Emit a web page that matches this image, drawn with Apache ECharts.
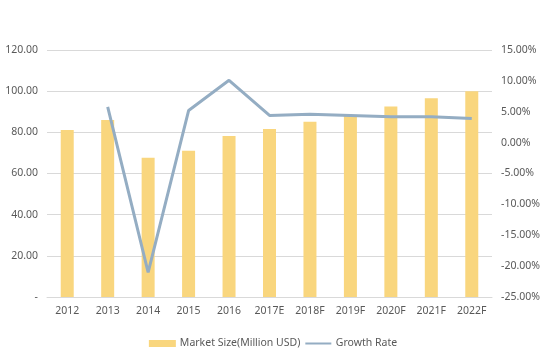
<!DOCTYPE html>
<html><head><meta charset="utf-8">
<script src="https://cdn.jsdelivr.net/npm/echarts@6/dist/echarts.min.js"></script>
<style>html,body{margin:0;padding:0;background:#fff}#c{width:546px;height:353px}</style>
</head><body><div id="c"></div>
<script>
var categories = ['2012','2013','2014','2015','2016','2017E','2018F','2019F','2020F','2021F','2022F'];
var marketSize = [81.1, 86.0, 67.7, 71.1, 78.2, 81.6, 85.2, 88.0, 92.6, 96.5, 100.0];
var growthRate = [null, 5.8, -21.0, 5.2, 10.1, 4.4, 4.6, 4.4, 4.2, 4.2, 3.9];
var leftTicks = {min: 0, max: 120, interval: 20};
var rightTicks = {min: -25, max: 15, interval: 5};

var chart = echarts.init(document.getElementById('c'));
var font = 'Noto Sans';
var fs = 10.5;
chart.setOption({
  animation: false,
  textStyle: {fontFamily: font},
  grid: {left: 47, right: 54, top: 50, bottom: 56},
  legend: {
    top: 333, left: 'center', itemGap: 5, itemWidth: 27, itemHeight: 7,
    textStyle: {color: '#595959', fontSize: fs, fontFamily: font, padding: [0, 0, 0, -1]},
    data: [
      {name: 'Market Size(Million USD)', icon: 'rect'},
      {name: 'Growth Rate', icon: 'path://M0,0 L0,0 M0,2.5 L26,2.5 L26,4.5 L0,4.5 Z M26,7 L26,7'}
    ]
  },
  xAxis: {
    type: 'category', data: categories,
    axisLine: {lineStyle: {color: '#d9d9d9'}},
    axisTick: {show: false},
    axisLabel: {color: '#595959', fontSize: fs, margin: 9, fontFamily: font, interval: 0}
  },
  yAxis: [{
    type: 'value', min: leftTicks.min, max: leftTicks.max, interval: leftTicks.interval,
    axisLine: {show: false}, axisTick: {show: false},
    splitLine: {lineStyle: {color: '#d9d9d9'}},
    axisLabel: {color: '#595959', fontSize: fs, margin: 9, fontFamily: font,
      formatter: function(v){ return v === 0 ? '-' : v.toFixed(2); }}
  }, {
    type: 'value', min: rightTicks.min, max: rightTicks.max, interval: rightTicks.interval,
    axisLine: {show: false}, axisTick: {show: false}, splitLine: {show: false},
    axisLabel: {color: '#595959', fontSize: fs, margin: 9, fontFamily: font,
      formatter: function(v){ return v.toFixed(2) + '%'; }}
  }],
  series: [{
    name: 'Market Size(Million USD)', type: 'bar', data: marketSize, barWidth: 13,
    itemStyle: {color: '#F9D67E'}
  }, {
    name: 'Growth Rate', type: 'line', yAxisIndex: 1, data: growthRate,
    showSymbol: false, symbol: 'none',
    lineStyle: {color: '#94ADC3', width: 3},
    itemStyle: {color: '#94ADC3'}
  }]
});
</script></body></html>
